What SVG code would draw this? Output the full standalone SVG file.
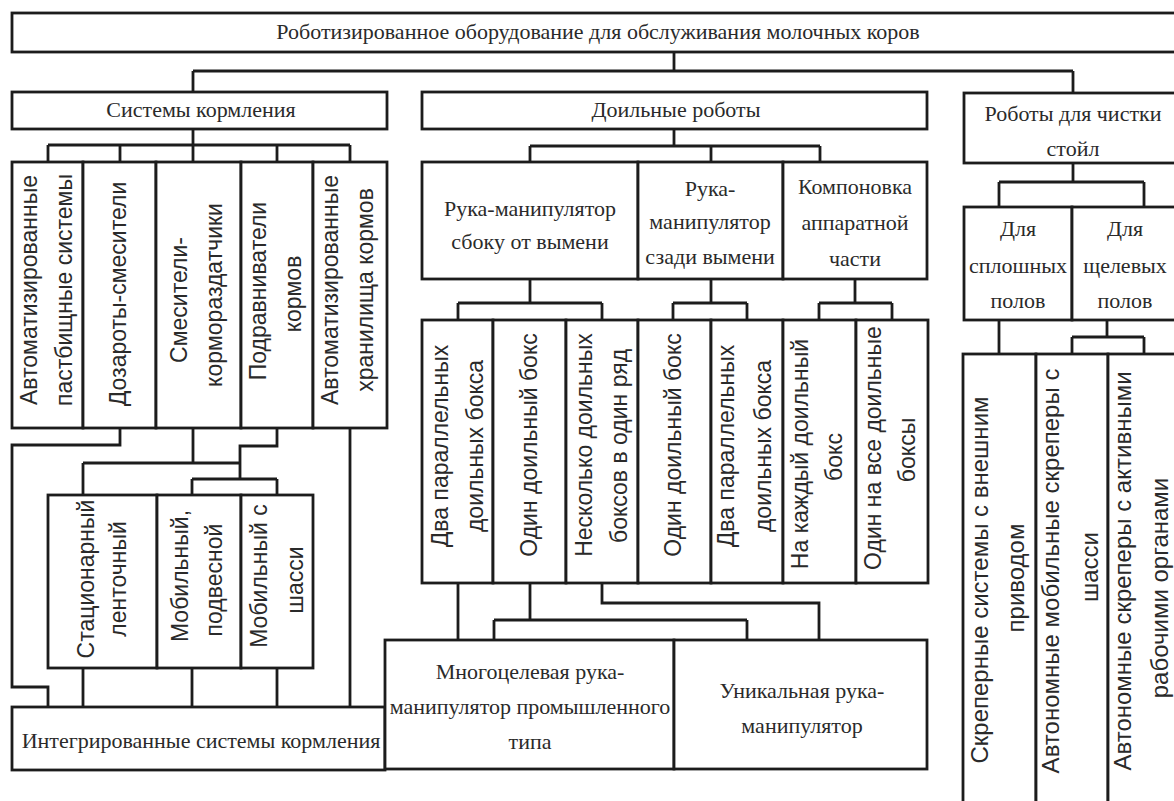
<svg xmlns="http://www.w3.org/2000/svg" width="1174" height="801" viewBox="0 0 1174 801">
<style>
.b{fill:#fff;stroke:#1c1c1c;stroke-width:2.8}
.c{fill:none;stroke:#1c1c1c;stroke-width:2.8}
.t{font-family:"Liberation Serif",serif;font-size:22px;fill:#2a2a2a;text-anchor:middle}
.v{font-family:"Liberation Sans",sans-serif;font-size:23px;fill:#2a2a2a;text-anchor:middle}
.w{font-size:24px}
</style>
<rect width="1174" height="801" fill="#fff"/>
<g id="connectors">
<path class="c" d="M674,52V71M193,71H1073M193,71V92M1073,71V93"/>
<path class="c" d="M193,129V145M48,145H350M48,145V162M120,145V162M193,145V162M277,145V162M350,145V162"/>
<path class="c" d="M674,129V146M530,146H820M530,146V162M711,146V162M820,146V162"/>
<path class="c" d="M530,279V303M458,303H602M458,303V320M602,303V320"/>
<path class="c" d="M711,279V303M673,303H747M673,303V320M747,303V320"/>
<path class="c" d="M855,279V303M819,303H892M819,303V320M892,303V320"/>
<path class="c" d="M1073,163V182M999,182H1144M999,182V207M1144,182V207"/>
<path class="c" d="M999,320V354M1107,320V337M1072,337H1144M1072,337V354M1144,337V354"/>
<path class="c" d="M120,428V445H12V687H48V707"/>
<path class="c" d="M193,428V463M83,463H240M83,463V495"/>
<path class="c" d="M277,428V446H240V479M192,479H277M192,479V495M277,479V495"/>
<path class="c" d="M83,668V707M192,668V707M277,668V707M350,428V707"/>
<path class="c" d="M458,583V640M530,583V620M494,620H747M494,620V640M747,620V640M602,583V603H819V640"/>
</g>
<g id="root"><rect class="b" x="12" y="13" width="1172" height="39"/><text class="t" x="598" y="39">Роботизированное оборудование для обслуживания молочных коров</text></g>
<g id="feed"><rect class="b" x="12" y="92" width="375" height="37"/><text class="t" x="201" y="117">Системы кормления</text></g>
<g id="milk"><rect class="b" x="422" y="92" width="505" height="37"/><text class="t" x="676" y="117">Доильные роботы</text></g>
<g id="clean"><rect class="b" x="964" y="93" width="220" height="70"/><text class="t" x="1073" y="121">Роботы для чистки</text><text class="t" x="1073" y="156">стойл</text></g>

<g id="f1"><rect class="b" x="12" y="162" width="71" height="266"/><text class="v" transform="translate(37,290) rotate(-90)">Автоматизированные</text><text class="v" transform="translate(72,290) rotate(-90)">пастбищные системы</text></g>
<g id="f2"><rect class="b" x="83" y="162" width="73" height="266"/><text class="v" transform="translate(126,294) rotate(-90)">Дозароты-смесители</text></g>
<g id="f3"><rect class="b" x="156" y="162" width="85" height="266"/><text class="v" transform="translate(187,300) rotate(-90)">Смесители-</text><text class="v" transform="translate(222,295) rotate(-90)">кормораздатчики</text></g>
<g id="f4"><rect class="b" x="241" y="162" width="72" height="266"/><text class="v" transform="translate(266,291) rotate(-90)">Подравниватели</text><text class="v" transform="translate(301,294) rotate(-90)">кормов</text></g>
<g id="f5"><rect class="b" x="313" y="162" width="74" height="266"/><text class="v" transform="translate(338,290) rotate(-90)">Автоматизированные</text><text class="v" transform="translate(373,290) rotate(-90)">хранилища кормов</text></g>

<g id="s1"><rect class="b" x="48" y="495" width="109" height="173"/><text class="v" transform="translate(94,579) rotate(-90)">Стационарный</text><text class="v" transform="translate(126,579) rotate(-90)">ленточный</text></g>
<g id="s2"><rect class="b" x="157" y="495" width="84" height="173"/><text class="v" transform="translate(188,576) rotate(-90)">Мобильный,</text><text class="v" transform="translate(222,580) rotate(-90)">подвесной</text></g>
<g id="s3"><rect class="b" x="241" y="495" width="72" height="173"/><text class="v" transform="translate(267,576) rotate(-90)">Мобильный с</text><text class="v" transform="translate(303,580) rotate(-90)">шасси</text></g>
<g id="integr"><rect class="b" x="12" y="707" width="373" height="63"/><text class="t" x="201" y="748">Интегрированные системы кормления</text></g>

<g id="m1"><rect class="b" x="422" y="162" width="216" height="117"/><text class="t" x="530" y="216">Рука-манипулятор</text><text class="t" x="530" y="249">сбоку от вымени</text></g>
<g id="m2"><rect class="b" x="638" y="162" width="145" height="117"/><text class="t" x="710" y="196">Рука-</text><text class="t" x="710" y="229">манипулятор</text><text class="t" x="710" y="264">сзади вымени</text></g>
<g id="m3"><rect class="b" x="783" y="162" width="144" height="117"/><text class="t" x="855" y="194">Компоновка</text><text class="t" x="855" y="230">аппаратной</text><text class="t" x="855" y="266">части</text></g>

<g id="l1"><rect class="b" x="422" y="320" width="71" height="263"/><text class="v" transform="translate(448,446) rotate(-90)">Два параллельных</text><text class="v" transform="translate(483,446) rotate(-90)">доильных бокса</text></g>
<g id="l2"><rect class="b" x="493" y="320" width="73" height="263"/><text class="v" transform="translate(537,445) rotate(-90)">Один доильный бокс</text></g>
<g id="l3"><rect class="b" x="566" y="320" width="72" height="263"/><text class="v" transform="translate(592,445) rotate(-90)">Несколько доильных</text><text class="v" transform="translate(627,446) rotate(-90)">боксов в один ряд</text></g>
<g id="l4"><rect class="b" x="638" y="320" width="73" height="263"/><text class="v" transform="translate(681,445) rotate(-90)">Один доильный бокс</text></g>
<g id="l5"><rect class="b" x="711" y="320" width="72" height="263"/><text class="v" transform="translate(734,446) rotate(-90)">Два параллельных</text><text class="v" transform="translate(771,446) rotate(-90)">доильных бокса</text></g>
<g id="l6"><rect class="b" x="783" y="320" width="73" height="263"/><text class="v" transform="translate(808,454) rotate(-90)">На каждый доильный</text><text class="v" transform="translate(842,457) rotate(-90)">бокс</text></g>
<g id="l7"><rect class="b" x="856" y="320" width="72" height="263"/><text class="v" transform="translate(881,448) rotate(-90)">Один на все доильные</text><text class="v" transform="translate(915,450) rotate(-90)">боксы</text></g>

<g id="arm1"><rect class="b" x="385" y="640" width="289" height="129"/><text class="t" x="530" y="679">Многоцелевая рука-</text><text class="t" x="530" y="714">манипулятор промышленного</text><text class="t" x="530" y="749">типа</text></g>
<g id="arm2"><rect class="b" x="674" y="640" width="253" height="129"/><text class="t" x="802" y="698">Уникальная рука-</text><text class="t" x="802" y="733">манипулятор</text></g>

<g id="c1"><rect class="b" x="964" y="207" width="108" height="113"/><text class="t" x="1018" y="236">Для</text><text class="t" x="1018" y="273">сплошных</text><text class="t" x="1018" y="308">полов</text></g>
<g id="c2"><rect class="b" x="1072" y="207" width="108" height="113"/><text class="t" x="1125" y="236">Для</text><text class="t" x="1125" y="273">щелевых</text><text class="t" x="1125" y="308">полов</text></g>

<g id="k1"><rect class="b" x="963" y="354" width="73" height="460"/><text class="v w" transform="translate(988,580) rotate(-90)">Скреперные системы с внешним</text><text class="v w" transform="translate(1024,578) rotate(-90)">приводом</text></g>
<g id="k2"><rect class="b" x="1036" y="354" width="72" height="460"/><text class="v w" transform="translate(1059,571) rotate(-90)">Автономные мобильные скреперы с</text><text class="v w" transform="translate(1098,567) rotate(-90)">шасси</text></g>
<g id="k3"><rect class="b" x="1108" y="354" width="72" height="460"/><text class="v w" transform="translate(1131,571) rotate(-90)">Автономные скреперы с активными</text><text class="v w" transform="translate(1168,588) rotate(-90)">рабочими органами</text></g>
</svg>
